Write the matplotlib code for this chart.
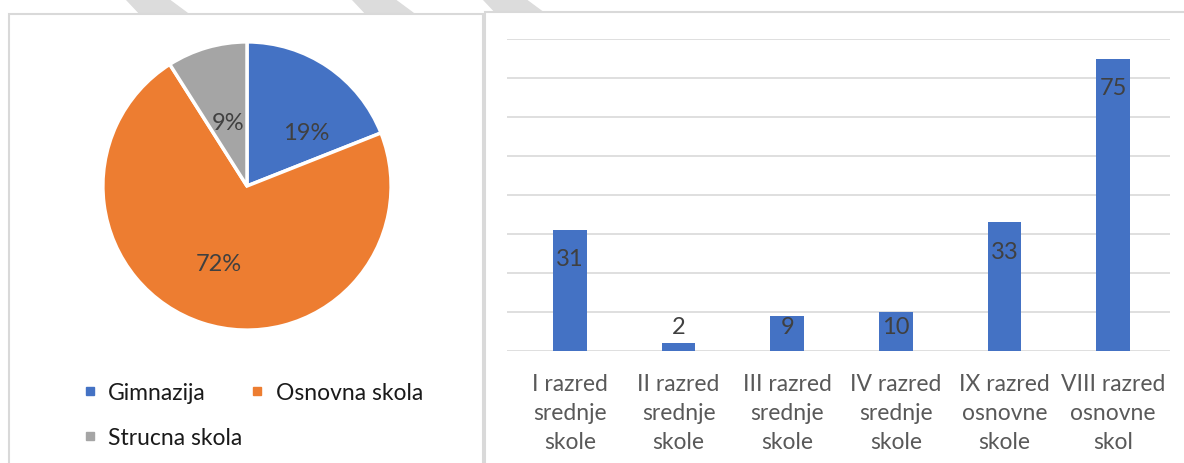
import numpy as np
import matplotlib.pyplot as plt
from matplotlib.patches import Polygon, Rectangle
from matplotlib.lines import Line2D

plt.rcParams['font.family'] = ['Lato', 'DejaVu Sans']

# pie data
pie_labels = ['Gimnazija', 'Osnovna skola', 'Strucna skola']
pie_values = [19, 72, 9]
pie_colors = ['#4472C4', '#ED7D31', '#A5A5A5']
# where Excel put the percentage labels (radius fraction, angle in degrees)
pct_pos = [(0.55, 42), (0.57, 250), (0.46, 107)]

# bar data
bar_cats = ['I razred\nsrednje\nskole', 'II razred\nsrednje\nskole',
            'III razred\nsrednje\nskole', 'IV razred\nsrednje\nskole',
            'IX razred\nosnovne\nskole', 'VIII razred\nosnovne\nskol']
bar_values = [31, 2, 9, 10, 33, 75]

W, H = 1184, 464
fig = plt.figure(figsize=(W / 100, H / 100), dpi=100)

def fx(x): return x / W
def fy(y): return 1 - y / H

# watermark stripes at the top
for x0 in [126, 352, 483]:
    fig.patches.append(Polygon([(fx(x0), fy(0)), (fx(x0 + 42), fy(0)),
                                (fx(x0 + 65), fy(17)), (fx(x0 + 16), fy(17))],
                               closed=True, transform=fig.transFigure,
                               color='#dcdcdc', zorder=-3))

# panel frames
fig.patches.append(Rectangle((fx(9), fy(470)), fx(474), fy(15) - fy(470),
                             transform=fig.transFigure, facecolor='white',
                             edgecolor='#d9d9d9', lw=1.5, zorder=-2))
fig.patches.append(Rectangle((fx(485), fy(470)), fx(720), fy(13) - fy(470),
                             transform=fig.transFigure, facecolor='white',
                             edgecolor='#d9d9d9', lw=1.5, zorder=-2))

# pie
cx, cy, r = 247, 187, 147
ax1 = fig.add_axes([fx(cx - r), fy(cy + r), fx(2 * r), fy(cy - r) - fy(cy + r)])
wedges, texts, autotexts = ax1.pie(pie_values, colors=pie_colors, startangle=90,
                                   counterclock=False, autopct='%1.0f%%',
                                   wedgeprops=dict(edgecolor='white', linewidth=2.5),
                                   textprops=dict(fontsize=17, color='#404040'))
for t, (rr, ang) in zip(autotexts, pct_pos):
    t.set_position((rr * np.cos(np.radians(ang)), rr * np.sin(np.radians(ang))))
ax1.set_xlim(-1.02, 1.02)
ax1.set_ylim(-1.02, 1.02)
ax1.set_aspect('equal')

handles = [Line2D([], [], marker='s', linestyle='none', markersize=6,
                  color=c) for c in pie_colors]
order = [0, 2, 1]
fig.legend([handles[i] for i in order], [pie_labels[i] for i in order],
           loc='upper left', bbox_to_anchor=(fx(83), fy(383)), ncol=2,
           frameon=False, fontsize=16.5, handlelength=0.6, handletextpad=0.5,
           columnspacing=0.35, labelspacing=1.05, borderpad=0, borderaxespad=0,
           labelcolor='#1a1a1a')

# bars
ax2 = fig.add_axes([fx(507), fy(352), fx(1170 - 507), fy(40) - fy(352)])
x = np.arange(len(bar_values))
ax2.bar(x, bar_values, width=0.31, color='#4472C4', zorder=3)
for xi, v in zip(x, bar_values):
    ax2.text(xi, max(v - 7.4, 6.4), str(v), ha='center', va='center',
             fontsize=17, color='#404040', zorder=4)
ax2.set_xlim(-0.58, 5.525)
ax2.set_ylim(0, 80)
ax2.set_yticks(np.arange(0, 81, 10))
ax2.yaxis.grid(True, color='#d9d9d9', lw=1.2)
ax2.set_axisbelow(True)
ax2.set_xticks(x)
ax2.set_xticklabels(bar_cats, fontsize=16.5, color='#595959', linespacing=1.47)
ax2.tick_params(axis='x', length=0, pad=15.5)
ax2.tick_params(axis='y', length=0, labelleft=False)
for s in ax2.spines.values():
    s.set_visible(False)
ax2.patch.set_alpha(0)

fig.savefig('out.png', dpi=100)
